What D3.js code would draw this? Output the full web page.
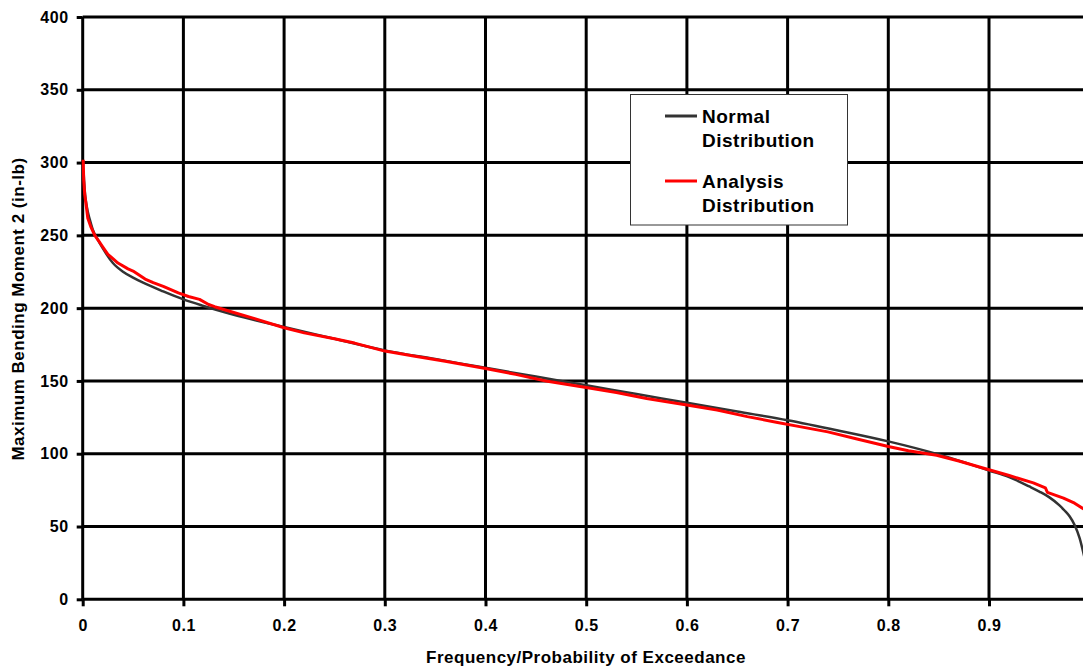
<!DOCTYPE html>
<html>
<head>
<meta charset="utf-8">
<script src="https://cdn.jsdelivr.net/npm/d3@7"></script>
<style>
  html, body { margin: 0; padding: 0; background: #fff; }
  svg { display: block; font-family: Arial, "Liberation Sans", sans-serif; font-weight: bold; }
</style>
</head>
<body>
<svg id="chart" width="1083" height="671"></svg>
<script>
// probability of exceedance vs. bending moment
const normalP = [0.001, 0.002, 0.004, 0.007, 0.01, 0.015, 0.02, 0.03, 0.04, 0.05, 0.06, 0.08, 0.1, 0.12, 0.15,
  0.2, 0.25, 0.3, 0.35, 0.4, 0.45, 0.5, 0.55, 0.6, 0.65, 0.7, 0.75, 0.8, 0.85, 0.88, 0.9, 0.92, 0.94, 0.95,
  0.96, 0.97, 0.975, 0.98, 0.985, 0.99, 0.995];
const normalM = [292, 281, 270, 261, 254, 247, 241, 231, 225, 221, 217.5, 211.5, 206, 201.5, 195.5,
  187, 179, 171, 165, 159, 153, 147, 141, 135, 129, 123, 116, 108.5, 99.5, 93, 88.5, 84, 77.5, 74,
  70, 64.5, 61, 57, 51, 42, 28];

const analysisP = [0.0005, 0.001, 0.002, 0.0036, 0.005, 0.008, 0.012, 0.016, 0.02, 0.025, 0.03, 0.035, 0.045,
  0.05, 0.062, 0.07, 0.08, 0.095, 0.105, 0.116, 0.125, 0.131, 0.15, 0.17, 0.2, 0.22, 0.25, 0.27, 0.3, 0.33,
  0.36, 0.4, 0.43, 0.46, 0.5, 0.53, 0.56, 0.6, 0.63, 0.66, 0.69, 0.712, 0.74, 0.77, 0.8, 0.82, 0.848, 0.87,
  0.9, 0.92, 0.944, 0.956, 0.958, 0.974, 0.985, 0.994];
const analysisM = [302, 288, 278, 270, 262, 256, 250, 246, 242, 237, 234, 231, 227,
  225.5, 220, 217.5, 215, 210.5, 208, 206, 202.5, 201, 197, 193, 186.5, 183, 179, 176, 170.5, 167,
  163.5, 158.5, 154.5, 150, 145.5, 142, 138, 133.5, 130, 125.5, 121.5, 118.6, 115, 110, 105, 102, 99, 95,
  89, 85, 80, 76.5, 73.5, 69.5, 66, 62];

const xTicks = [0, 0.1, 0.2, 0.3, 0.4, 0.5, 0.6, 0.7, 0.8, 0.9];
const yTicks = [0, 50, 100, 150, 200, 250, 300, 350, 400];

const seriesNames = [["Normal", "Distribution"], ["Analysis", "Distribution"]];
const seriesColors = ["#333333", "#ff0000"];

const svg = d3.select("#chart");

const x = d3.scaleLinear().domain([0, 1]).range([82.7, 1089.7]);
const y = d3.scaleLinear().domain([0, 400]).range([599.3, 17]);

// grid
const grid = svg.append("g");
grid.selectAll(".hg").data(yTicks).join("line")
  .attr("x1", x(0)).attr("x2", x(1))
  .attr("y1", d => y(d)).attr("y2", d => y(d))
  .attr("stroke", "#000").attr("stroke-width", 3);
grid.selectAll(".vg").data(xTicks).join("line")
  .attr("x1", d => x(d)).attr("x2", d => x(d))
  .attr("y1", y(400)).attr("y2", y(0))
  .attr("stroke", "#000").attr("stroke-width", 3);

// axes
const yAxis = svg.append("g")
  .attr("transform", `translate(${x(0)},0)`)
  .call(d3.axisLeft(y).tickValues(yTicks).tickSize(6).tickPadding(8).tickFormat(d3.format("d")));
const xAxis = svg.append("g")
  .attr("transform", `translate(0,${y(0)})`)
  .call(d3.axisBottom(x).tickValues(xTicks).tickSize(7).tickPadding(13)
    .tickFormat(d => d === 0 ? "0" : d.toFixed(1)));

[xAxis, yAxis].forEach(a => {
  a.select(".domain").remove();
  a.selectAll(".tick line").attr("stroke", "#000").attr("stroke-width", 3);
  a.selectAll(".tick text")
    .attr("fill", "#000")
    .style("font-size", "16px")
    .style("font-weight", "bold")
    .style("font-family", "Arial, 'Liberation Sans', sans-serif")
    .style("letter-spacing", "0.6px");
});

// lines
const line = d3.line().x(d => x(d[0])).y(d => y(d[1])).curve(d3.curveMonotoneX);
svg.append("path")
  .datum(normalP.map((p, i) => [p, normalM[i]]))
  .attr("d", line)
  .attr("fill", "none").attr("stroke", seriesColors[0]).attr("stroke-width", 2.5);
svg.append("path")
  .datum(analysisP.map((p, i) => [p, analysisM[i]]))
  .attr("d", d3.line().x(d => x(d[0])).y(d => y(d[1])))
  .attr("fill", "none").attr("stroke", seriesColors[1]).attr("stroke-width", 3)
  .attr("stroke-linejoin", "round");

// axis titles
svg.append("text")
  .attr("x", 586).attr("y", 663)
  .attr("text-anchor", "middle")
  .style("font-size", "17px").style("letter-spacing", "0.5px")
  .text("Frequency/Probability of Exceedance");
svg.append("text")
  .attr("transform", "translate(24,309) rotate(-90)")
  .attr("text-anchor", "middle")
  .style("font-size", "17px").style("letter-spacing", "0.5px")
  .text("Maximum Bending Moment 2 (in-lb)");

// legend
const legend = svg.append("g");
legend.append("rect")
  .attr("x", 630.5).attr("y", 94.5).attr("width", 217).attr("height", 130.5)
  .attr("fill", "#fff").attr("stroke", "#333").attr("stroke-width", 1);
const legendRows = [116, 181];
seriesNames.forEach((names, i) => {
  const row = legend.append("g");
  row.append("line")
    .attr("x1", 665).attr("x2", 697)
    .attr("y1", legendRows[i]).attr("y2", legendRows[i])
    .attr("stroke", seriesColors[i]).attr("stroke-width", 3);
  row.selectAll("text").data(names).join("text")
    .attr("x", 702)
    .attr("y", (d, j) => legendRows[i] + 6.5 + j * 24)
    .style("font-size", "19px").style("letter-spacing", "0.5px")
    .text(d => d);
});
</script>
</body>
</html>
